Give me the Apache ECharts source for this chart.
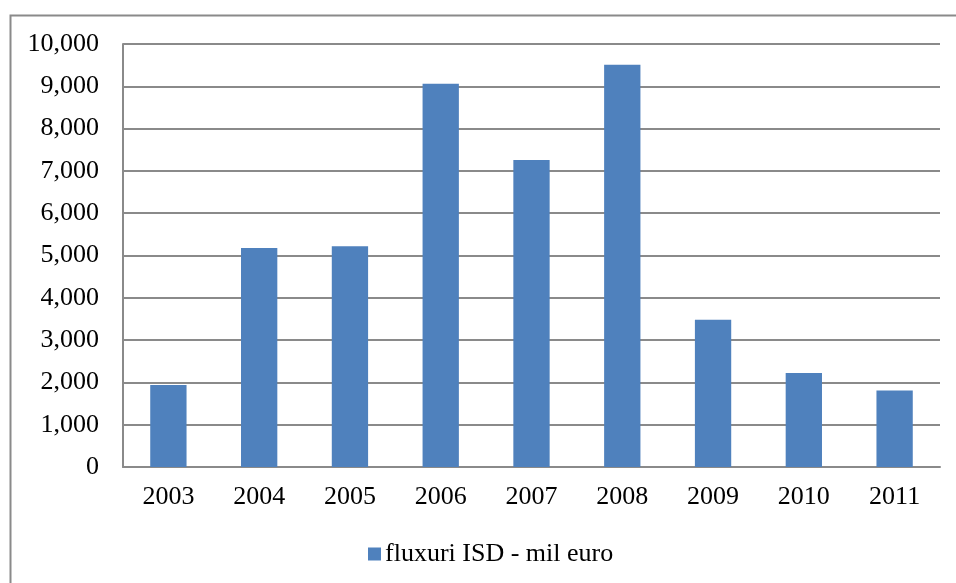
<!DOCTYPE html>
<html>
<head>
<meta charset="utf-8">
<script src="https://cdn.jsdelivr.net/npm/echarts@6/dist/echarts.min.js"></script>
<style>
  html, body { margin: 0; padding: 0; background: #fff; }
  #chart { width: 956px; height: 583px; }
</style>
</head>
<body>
<div id="chart"></div>
<script>
// Annual FDI flows, million euro
const years = ['2003', '2004', '2005', '2006', '2007', '2008', '2009', '2010', '2011'];
const flows = [1940, 5180, 5220, 9060, 7260, 9510, 3480, 2220, 1810];
const seriesName = 'fluxuri ISD - mil euro';

const font = '"Liberation Serif", "Times New Roman", serif';
const fontSize = 26;
const chart = echarts.init(document.getElementById('chart'));

chart.setOption({
  backgroundColor: '#ffffff',
  animation: false,
  graphic: [{
    type: 'rect',
    shape: { x: 10.5, y: 15.5, width: 980, height: 620 },
    style: { fill: 'none', stroke: '#8a8a8a', lineWidth: 2 },
    silent: true
  }],
  grid: { left: 123, right: 16, top: 44, bottom: 116 },
  legend: {
    data: [seriesName],
    top: 536,
    left: 363,
    icon: 'rect',
    itemWidth: 13,
    itemHeight: 13,
    itemGap: 5,
    textStyle: { fontFamily: font, fontSize: fontSize, lineHeight: 26, color: '#000', padding: [0, 0, 0, -1] }
  },
  xAxis: {
    type: 'category',
    data: years,
    axisLine: { lineStyle: { color: '#8a8a8a', width: 2 } },
    axisTick: { show: false },
    axisLabel: { fontFamily: font, fontSize: fontSize, color: '#000', margin: 17 }
  },
  yAxis: {
    type: 'value',
    min: 0,
    max: 10000,
    interval: 1000,
    axisLine: { show: true, lineStyle: { color: '#8a8a8a', width: 2 } },
    axisTick: { show: false },
    splitLine: { lineStyle: { color: '#8a8a8a', width: 2 } },
    axisLabel: {
      fontFamily: font, fontSize: fontSize, color: '#000', margin: 24,
      formatter: v => v.toLocaleString('en-US')
    }
  },
  series: [{
    name: seriesName,
    type: 'bar',
    data: flows,
    barWidth: '40%',
    itemStyle: { color: '#4F81BD' }
  }]
});
</script>
</body>
</html>
